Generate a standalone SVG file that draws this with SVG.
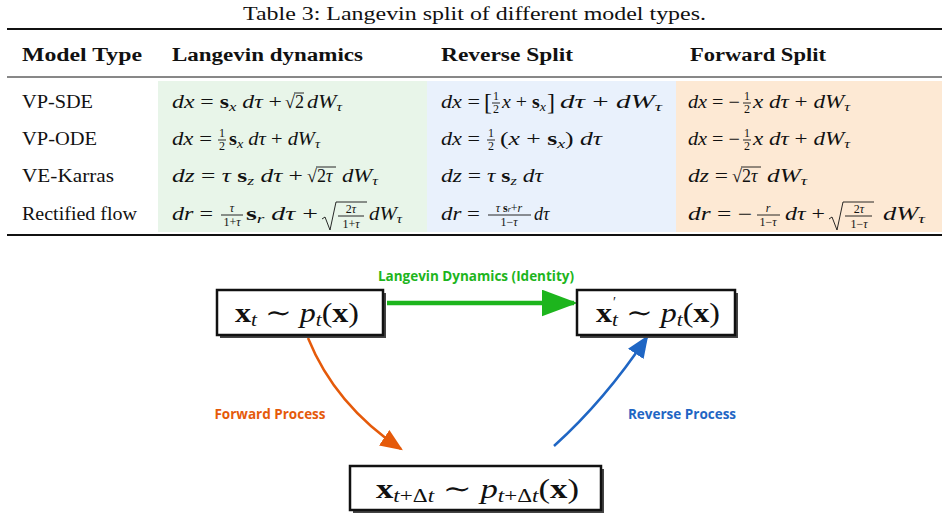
<svg xmlns="http://www.w3.org/2000/svg" width="948" height="521" viewBox="0 0 948 521">
<defs>
<style>
text{font-family:"Liberation Serif","DejaVu Serif",serif;font-size:18px;fill:#111}
.m{font-style:italic}
.n{font-style:normal}
.b{font-weight:bold;font-style:normal}
.s{font-size:12.5px}
.f{font-size:12px;text-anchor:middle}
.h{font-weight:bold;font-size:18px}
.lab{font-family:"Open Sans","Noto Sans",sans-serif;font-weight:bold;font-size:13.5px}
.bx{font-size:27px}
.o{stroke:#111;stroke-width:0.9;fill:none}
</style>
<marker id="ag" viewBox="0 0 10 10" refX="9" refY="5" markerWidth="8" markerHeight="6" preserveAspectRatio="none" markerUnits="strokeWidth" orient="auto"><path d="M0,0L10,5L0,10z" fill="#1db51d"/></marker>
<marker id="ao" viewBox="0 0 10 10" refX="9" refY="5" markerWidth="9" markerHeight="7.5" preserveAspectRatio="none" markerUnits="strokeWidth" orient="auto"><path d="M0,0L10,5L0,10z" fill="#e55a0a"/></marker>
<marker id="ab" viewBox="0 0 10 10" refX="9" refY="5" markerWidth="9" markerHeight="7.5" preserveAspectRatio="none" markerUnits="strokeWidth" orient="auto"><path d="M0,0L10,5L0,10z" fill="#1f66c4"/></marker>
</defs>
<rect width="948" height="521" fill="#fff"/>
<g id="table">
<text x="243" y="20" textLength="463" lengthAdjust="spacingAndGlyphs">Table 3: Langevin split of different model types.</text>
<rect x="158" y="81" width="269" height="151" fill="#e8f5e9"/>
<rect x="427" y="81" width="249" height="151" fill="#e9f1fc"/>
<rect x="676" y="81" width="266" height="151" fill="#fde9d4"/>
<line x1="7" y1="29" x2="942" y2="29" stroke="#111" stroke-width="2"/>
<line x1="7" y1="77" x2="942" y2="77" stroke="#111" stroke-width="1"/>
<line x1="7" y1="235" x2="942" y2="235" stroke="#111" stroke-width="2"/>
<text class="h" x="22" y="61" textLength="120" lengthAdjust="spacingAndGlyphs">Model Type</text>
<text class="h" x="172" y="61" textLength="191" lengthAdjust="spacingAndGlyphs">Langevin dynamics</text>
<text class="h" x="441" y="61" textLength="132" lengthAdjust="spacingAndGlyphs">Reverse Split</text>
<text class="h" x="690" y="61" textLength="136" lengthAdjust="spacingAndGlyphs">Forward Split</text>
<text x="22" y="108" textLength="71" lengthAdjust="spacingAndGlyphs">VP-SDE</text>
<text x="22" y="145" textLength="75" lengthAdjust="spacingAndGlyphs">VP-ODE</text>
<text x="22" y="182" textLength="92" lengthAdjust="spacingAndGlyphs">VE-Karras</text>
<text x="22" y="220" textLength="115" lengthAdjust="spacingAndGlyphs">Rectified flow</text>

<!-- Langevin column -->
<text class="m" x="172" y="108" textLength="110" lengthAdjust="spacingAndGlyphs">dx <tspan class="n">= </tspan><tspan class="b">s</tspan><tspan class="s" dy="3">x</tspan><tspan dy="-3"> dτ </tspan><tspan class="n">+</tspan></text>
<text class="n" x="285" y="108">√</text><text class="n" x="295" y="108">2</text>
<line class="o" x1="294" y1="93" x2="304" y2="93"/>
<text class="m" x="307" y="108" textLength="35" lengthAdjust="spacingAndGlyphs">dW<tspan class="s" dy="3">τ</tspan></text>

<text class="m" x="172" y="145" textLength="40" lengthAdjust="spacingAndGlyphs">dx <tspan class="n">=</tspan></text>
<text class="f" x="222" y="137">1</text><line class="o" x1="218" y1="140" x2="226" y2="140"/><text class="f" x="222" y="150">2</text>
<text class="m" x="229" y="145" textLength="91" lengthAdjust="spacingAndGlyphs"><tspan class="b">s</tspan><tspan class="s" dy="3">x</tspan><tspan dy="-3"> dτ </tspan><tspan class="n">+ </tspan>dW<tspan class="s" dy="3">τ</tspan></text>

<text class="m" x="172" y="182" textLength="131" lengthAdjust="spacingAndGlyphs">dz <tspan class="n">= </tspan>τ <tspan class="b">s</tspan><tspan class="s" dy="3">z</tspan><tspan dy="-3"> dτ </tspan><tspan class="n">+</tspan></text>
<text class="n" x="307" y="182">√</text><text class="m" x="317" y="182"><tspan class="n">2</tspan>τ</text>
<line class="o" x1="316" y1="167" x2="336" y2="167"/>
<text class="m" x="342" y="182" textLength="36" lengthAdjust="spacingAndGlyphs">dW<tspan class="s" dy="3">τ</tspan></text>

<text class="m" x="172" y="220" textLength="41" lengthAdjust="spacingAndGlyphs">dr <tspan class="n">=</tspan></text>
<text class="f m" x="232" y="212">τ</text><line class="o" x1="221" y1="215" x2="243" y2="215"/><text class="f" x="232" y="226">1+<tspan class="m">τ</tspan></text>
<text class="m" x="246" y="220" textLength="72" lengthAdjust="spacingAndGlyphs"><tspan class="b">s</tspan><tspan class="s" dy="3">r</tspan><tspan dy="-3"> dτ </tspan><tspan class="n">+</tspan></text>
<path class="o" d="M322,219 L325,217 L330,230 L336,202 L367,202"/>
<text class="f" x="351" y="213">2<tspan class="m">τ</tspan></text><line class="o" x1="338" y1="216" x2="364" y2="216"/><text class="f" x="351" y="228">1+<tspan class="m">τ</tspan></text>
<text class="m" x="369" y="220" textLength="33" lengthAdjust="spacingAndGlyphs">dW<tspan class="s" dy="3">τ</tspan></text>

<!-- Reverse column -->
<text class="m" x="441" y="108" textLength="39" lengthAdjust="spacingAndGlyphs">dx <tspan class="n">=</tspan></text>
<text class="n" x="484" y="110" style="font-size:24px">[</text>
<text class="f" x="496" y="100">1</text><line class="o" x1="492" y1="103" x2="500" y2="103"/><text class="f" x="496" y="113">2</text>
<text class="m" x="502" y="108" textLength="44" lengthAdjust="spacingAndGlyphs">x <tspan class="n">+ </tspan><tspan class="b">s</tspan><tspan class="s" dy="3">x</tspan></text>
<text class="n" x="547" y="110" style="font-size:24px">]</text>
<text class="m" x="560" y="108" textLength="102" lengthAdjust="spacingAndGlyphs">dτ <tspan class="n">+ </tspan>dW<tspan class="s" dy="3">τ</tspan></text>

<text class="m" x="441" y="145" textLength="39" lengthAdjust="spacingAndGlyphs">dx <tspan class="n">=</tspan></text>
<text class="f" x="491" y="137">1</text><line class="o" x1="487" y1="140" x2="495" y2="140"/><text class="f" x="491" y="150">2</text>
<text class="m" x="500" y="145" textLength="102" lengthAdjust="spacingAndGlyphs"><tspan class="n">(</tspan>x <tspan class="n">+ </tspan><tspan class="b">s</tspan><tspan class="s" dy="3">x</tspan><tspan class="n" dy="-3">)</tspan> dτ</text>

<text class="m" x="441" y="182" textLength="102" lengthAdjust="spacingAndGlyphs">dz <tspan class="n">= </tspan>τ <tspan class="b">s</tspan><tspan class="s" dy="3">z</tspan><tspan dy="-3"> dτ</tspan></text>

<text class="m" x="441" y="220" textLength="39" lengthAdjust="spacingAndGlyphs">dr <tspan class="n">=</tspan></text>
<text class="f m" x="509" y="212">τ <tspan class="b">s</tspan><tspan style="font-size:8px">r</tspan><tspan class="n">+</tspan>r</text><line class="o" x1="488" y1="215" x2="531" y2="215"/><text class="f" x="509" y="226">1−<tspan class="m">τ</tspan></text>
<text class="m" x="534" y="220">dτ</text>

<!-- Forward column -->
<text class="m" x="688" y="108" textLength="52" lengthAdjust="spacingAndGlyphs">dx <tspan class="n">= −</tspan></text>
<text class="f" x="747" y="100">1</text><line class="o" x1="743" y1="103" x2="751" y2="103"/><text class="f" x="747" y="113">2</text>
<text class="m" x="753" y="108" textLength="97" lengthAdjust="spacingAndGlyphs">x dτ <tspan class="n">+ </tspan>dW<tspan class="s" dy="3">τ</tspan></text>

<text class="m" x="688" y="145" textLength="52" lengthAdjust="spacingAndGlyphs">dx <tspan class="n">= −</tspan></text>
<text class="f" x="747" y="137">1</text><line class="o" x1="743" y1="140" x2="751" y2="140"/><text class="f" x="747" y="150">2</text>
<text class="m" x="753" y="145" textLength="97" lengthAdjust="spacingAndGlyphs">x dτ <tspan class="n">+ </tspan>dW<tspan class="s" dy="3">τ</tspan></text>

<text class="m" x="688" y="182" textLength="40" lengthAdjust="spacingAndGlyphs">dz <tspan class="n">=</tspan></text>
<text class="n" x="732" y="182">√</text><text class="m" x="742" y="182"><tspan class="n">2</tspan>τ</text>
<line class="o" x1="741" y1="167" x2="761" y2="167"/>
<text class="m" x="767" y="182" textLength="40" lengthAdjust="spacingAndGlyphs">dW<tspan class="s" dy="3">τ</tspan></text>

<text class="m" x="688" y="220" textLength="64" lengthAdjust="spacingAndGlyphs">dr <tspan class="n">= −</tspan></text>
<text class="f m" x="768" y="212">r</text><line class="o" x1="757" y1="215" x2="780" y2="215"/><text class="f" x="768" y="226">1−<tspan class="m">τ</tspan></text>
<text class="m" x="785" y="220" textLength="40" lengthAdjust="spacingAndGlyphs">dτ <tspan class="n">+</tspan></text>
<path class="o" d="M829,219 L832,217 L837,230 L843,202 L874,202"/>
<text class="f" x="859" y="213">2<tspan class="m">τ</tspan></text><line class="o" x1="845" y1="216" x2="872" y2="216"/><text class="f" x="859" y="228">1−<tspan class="m">τ</tspan></text>
<text class="m" x="883" y="220" textLength="42" lengthAdjust="spacingAndGlyphs">dW<tspan class="s" dy="3">τ</tspan></text>
</g>

<g id="connectors" fill="none">
<path d="M387,303 L574,303" stroke="#1db51d" stroke-width="4.5" marker-end="url(#ag)"/>
<path d="M308,338 Q335,405 401,449" stroke="#e55a0a" stroke-width="2.5" marker-end="url(#ao)"/>
<path d="M554,446 Q605,400 647,337" stroke="#1f66c4" stroke-width="2.5" marker-end="url(#ab)"/>
<text class="lab" x="476" y="281" text-anchor="middle" style="fill:#1db51d">Langevin Dynamics (Identity)</text>
<text class="lab" x="270" y="419" text-anchor="middle" style="fill:#e55a0a">Forward Process</text>
<text class="lab" x="682" y="419" text-anchor="middle" style="fill:#1f66c4">Reverse Process</text>
</g>

<g id="node-xt">
<rect x="220" y="293" width="166" height="45" fill="#444"/>
<rect x="217" y="290" width="166" height="45" fill="#fff" stroke="#111" stroke-width="2.5"/>
<text class="bx" x="235" y="322" textLength="124" lengthAdjust="spacingAndGlyphs"><tspan class="b">x</tspan><tspan class="m" style="font-size:18px" dy="4">t</tspan><tspan dy="-4"> ∼ </tspan><tspan class="m">p</tspan><tspan class="m" style="font-size:18px" dy="4">t</tspan><tspan dy="-4">(</tspan><tspan class="b">x</tspan>)</text>
</g>
<g id="node-xtp">
<rect x="580" y="293" width="158" height="45" fill="#444"/>
<rect x="577" y="290" width="158" height="45" fill="#fff" stroke="#111" stroke-width="2.5"/>
<text class="bx" x="596" y="322" textLength="124" lengthAdjust="spacingAndGlyphs"><tspan class="b">x</tspan><tspan class="m" style="font-size:18px" dy="4">t</tspan><tspan dy="-4"> ∼ </tspan><tspan class="m">p</tspan><tspan class="m" style="font-size:18px" dy="4">t</tspan><tspan dy="-4">(</tspan><tspan class="b">x</tspan>)</text>
<text class="n" x="613" y="307" style="font-size:14px">′</text>
</g>
<g id="node-xtdt">
<rect x="353" y="469" width="251" height="44" fill="#444"/>
<rect x="350" y="466" width="251" height="44" fill="#fff" stroke="#111" stroke-width="2.5"/>
<text class="bx" x="376" y="498" textLength="203" lengthAdjust="spacingAndGlyphs"><tspan class="b">x</tspan><tspan class="m" style="font-size:18px" dy="4">t<tspan class="n">+Δ</tspan>t</tspan><tspan dy="-4"> ∼ </tspan><tspan class="m">p</tspan><tspan class="m" style="font-size:18px" dy="4">t<tspan class="n">+Δ</tspan>t</tspan><tspan dy="-4">(</tspan><tspan class="b">x</tspan>)</text>
</g>
</svg>
